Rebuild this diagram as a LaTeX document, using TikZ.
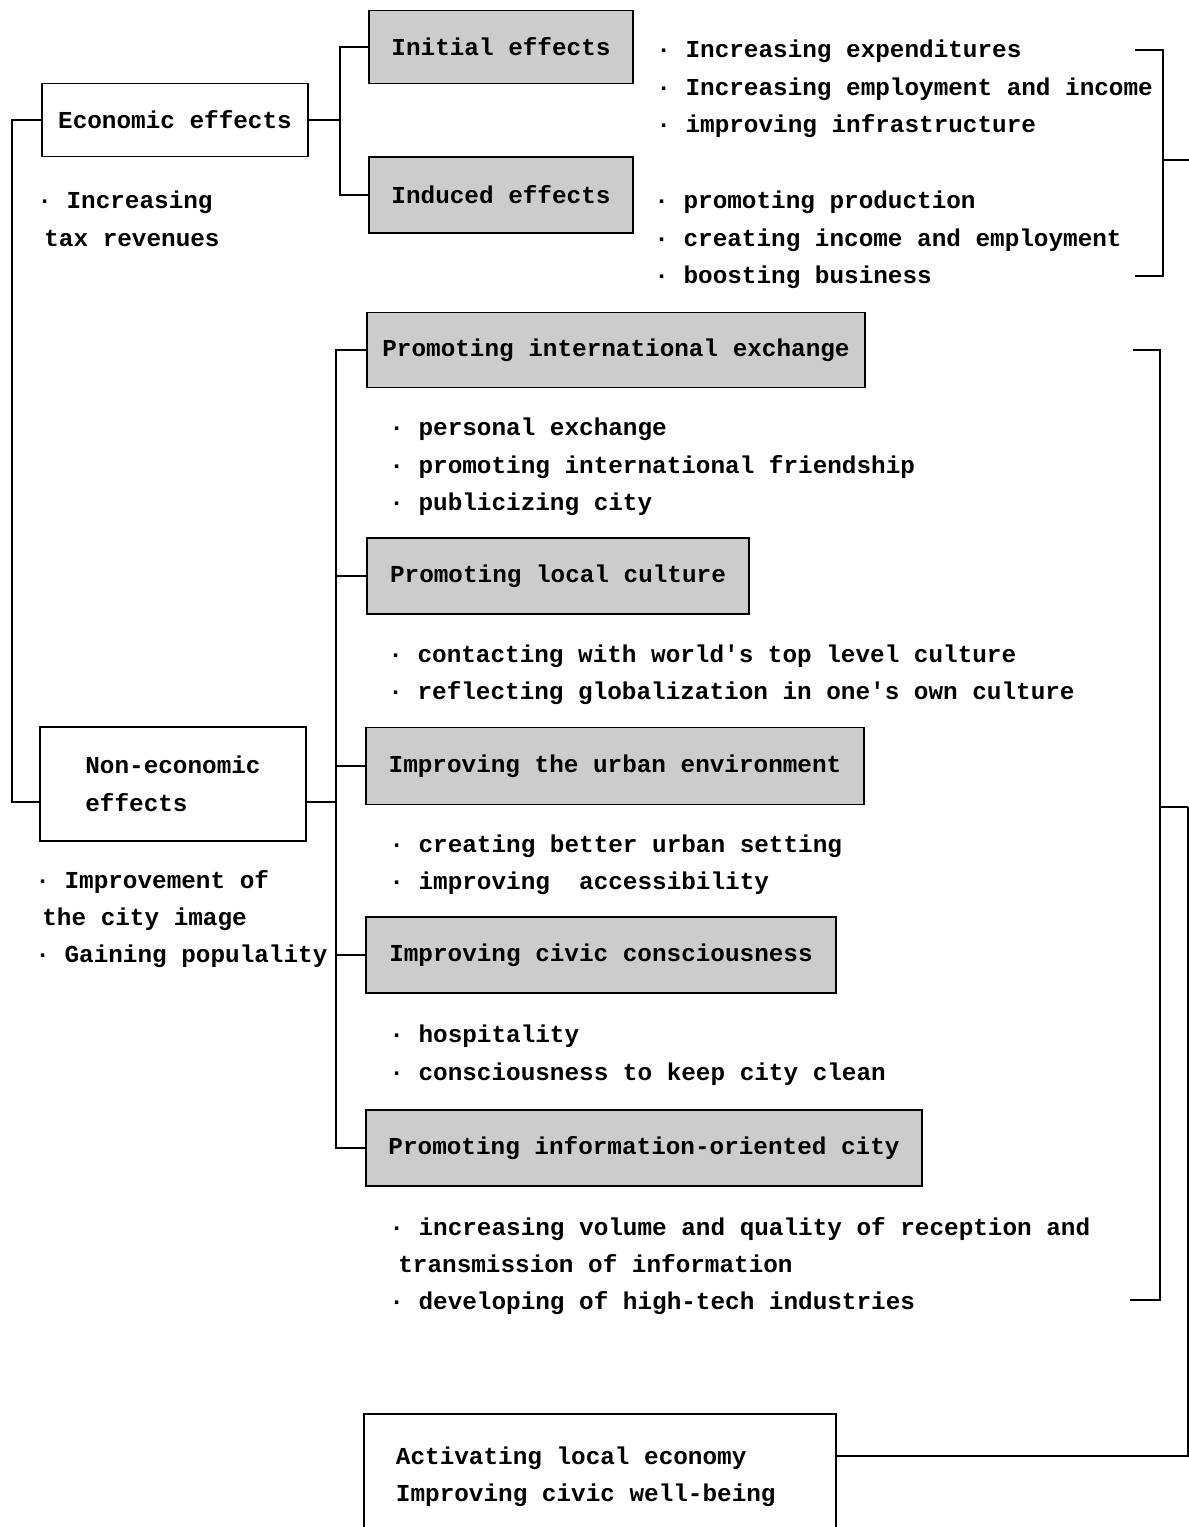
\documentclass[tikz,border=0pt]{standalone}
\usepackage{fontspec}
\setmonofont{Liberation Mono}
\usetikzlibrary{positioning}
\newcommand{\chartfont}{\ttfamily\bfseries\fontsize{13.85pt}{21.3pt}\selectfont}
\tikzset{effect/.style = {draw, line width=1.1pt, fill=white, font=\chartfont}}
\tikzset{shaded effect/.style = {effect, fill=black!20}}
\tikzset{note/.style = {anchor=west, inner sep=0pt, align=left, font=\chartfont}}
\tikzset{link/.style = {line width=1.1pt}}

\begin{document}
\begin{tikzpicture}[x=0.02cm, y=-0.02cm]
      \useasboundingbox (0,0) rectangle (1189,1527);

      % economic side
      \node[effect, minimum width=5.32cm, minimum height=1.46cm] (econ) at (175,120)
        {Economic effects};
      \node[shaded effect, minimum width=5.28cm, minimum height=1.46cm] (initial)
        at (501,47) {Initial effects};
      \node[shaded effect, minimum width=5.28cm, minimum height=1.52cm] (induced)
        at (501,195) {Induced effects};

      \node[note] (econNote) at (37,219)
        {· Increasing\\\hspace*{0.14cm}tax revenues};
      \node[note] (initialList) at (656,89)
        {· Increasing expenditures\\· Increasing employment and income\\· improving infrastructure};
      \node[note] (inducedList) at (654,240)
        {· promoting production\\· creating income and employment\\· boosting business};

      % non-economic side
      \node[effect, minimum width=5.32cm, minimum height=2.28cm, align=left,
        inner xsep=0.5cm] (nonecon) at (173,784)
        {Non-economic\\effects};
      \node[note] (nonNote) at (35,919)
        {· Improvement of\\\hspace*{0.14cm}the city image\\· Gaining populality};

      \node[shaded effect, minimum width=9.98cm, minimum height=1.5cm] (intl)
        at (616,350) {Promoting international exchange};
      \node[shaded effect, minimum width=7.64cm, minimum height=1.52cm] (culture)
        at (558,576) {Promoting local culture};
      \node[shaded effect, minimum width=9.98cm, minimum height=1.54cm] (urban)
        at (615,766) {Improving the urban environment};
      \node[shaded effect, minimum width=9.4cm, minimum height=1.52cm] (civic)
        at (601,955) {Improving civic consciousness};
      \node[shaded effect, minimum width=11.12cm, minimum height=1.52cm] (info)
        at (644,1148) {Promoting information-oriented city};

      \node[note] (intlList) at (389,467)
        {· personal exchange\\· promoting international friendship\\· publicizing city};
      \node[note] (cultureList) at (388,675)
        {· contacting with world's top level culture\\· reflecting globalization in one's own culture};
      \node[note] (urbanList) at (389,865)
        {· creating better urban setting\\· improving\ \ accessibility};
      \node[note] (civicList) at (389,1055)
        {· hospitality\\· consciousness to keep city clean};
      \node[note] (infoList) at (389,1266)
        {· increasing volume and quality of reception and\\\hspace*{0.18cm}transmission of information\\· developing of high-tech industries};

      % outcome
      \node[effect, anchor=north west, minimum height=2.52cm,
        align=left, inner xsep=0.64cm] (result) at (363,1413)
        {Activating local economy\\Improving civic well-being\hspace*{0.56cm}};

      % tree connectors
      \coordinate (econFork) at (340,120);
      \coordinate (nonFork) at (336,802);
      \draw[link] (econ.east) -- (econFork);
      \draw[link] (initial.west) -| (econFork);
      \draw[link] (induced.west) -| (econFork);

      \draw[link] (econ.west) -- (12,120) |- ([yshift=-0.36cm]nonecon.west);
      \draw[link] ([yshift=-0.36cm]nonecon.east) -- (nonFork);
      \foreach \branch in {intl, culture, urban, civic, info}
        \draw[link] (\branch.west) -| (nonFork);

      % brackets
      \coordinate (ecoTop) at (1135,50);
      \coordinate (ecoBot) at (1135,276);
      \coordinate (ecoOut) at (1189,160);
      \draw[link] (ecoTop) -- (1163,50) |- (ecoBot);
      \draw[link] (1163,160) -- (ecoOut);

      \coordinate (nonTop) at (1133,350);
      \coordinate (nonBot) at (1130,1300);
      \coordinate (merge) at (1188,807);
      \draw[link] (nonTop) -- (1160,350) |- (nonBot);
      \draw[link] (1160,807) -- (merge);
      \draw[link] (merge) |- ([yshift=0.42cm]result.east);
\end{tikzpicture}
\end{document}
